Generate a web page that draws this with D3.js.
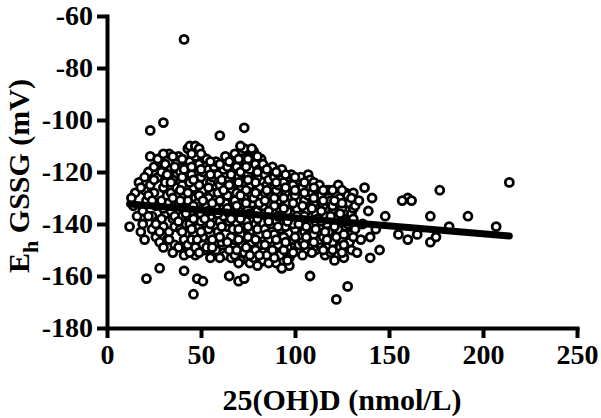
<!DOCTYPE html>
<html>
<head>
<meta charset="utf-8">
<script src="https://cdn.jsdelivr.net/npm/d3@7"></script>
<style>
  body { margin: 0; background: #fff; }
  svg text { font-family: "Liberation Serif", "Times New Roman", serif; font-weight: bold; }
</style>
</head>
<body>
<div id="chart"></div>
<script>
// scatter of Eh GSSG against serum 25(OH)D with a linear fit

const xTicks = [0, 50, 100, 150, 200, 250];
const yTicks = [-180, -160, -140, -120, -100, -80, -60];

// [25(OH)D, Eh GSSG]
const cloudPoints = [
  [12,-141],[14,-133],[15,-128],[16,-137],[17,-124],[13,-130],
  [18,-143],[19,-135],[20,-127],[21,-131],[19,-140],[22,-120],[21,-124],[20,-146],
  [23,-114],[24,-142],[25,-118],[25,-128],[26,-133],[24,-137],[27,-122],[26,-145],[23,-125],[27,-139],
  [28,-116],[29,-120],[30,-126],[29,-131],[31,-136],[30,-141],[32,-146],[28,-147],[31,-124],[32,-129],[29,-138],[31,-117],
  [33,-113],[34,-119],[35,-123],[34,-128],[36,-133],[35,-138],[33,-143],[36,-148],[37,-116],[37,-126],[34,-135],[36,-141],[35,-130],[33,-121],
  [38,-114],[39,-120],[40,-125],[41,-129],[38,-133],[40,-137],[39,-142],[41,-146],[42,-151],[38,-149],[42,-118],[40,-122],[41,-134],[39,-127],[42,-140],
  [43,-111],[44,-116],[45,-121],[46,-126],[43,-131],[45,-135],[44,-140],[46,-144],[43,-148],[47,-152],[47,-114],[46,-118],[44,-124],[47,-130],[45,-146],[46,-138],
  [48,-112],[49,-117],[50,-122],[51,-127],[48,-132],[50,-136],[49,-141],[51,-145],[52,-150],[48,-146],[52,-115],[51,-120],[49,-125],[52,-134],[50,-139],[51,-148],
  [53,-115],[54,-119],[55,-124],[56,-128],[53,-133],[55,-137],[54,-142],[56,-146],[57,-151],[53,-149],[57,-118],[56,-122],[54,-130],[57,-135],[55,-140],
  [58,-116],[59,-121],[60,-125],[61,-130],[58,-134],[60,-139],[59,-143],[61,-147],[62,-151],[58,-150],[62,-119],[61,-123],[59,-128],[62,-137],[60,-145],
  [63,-114],[64,-118],[65,-123],[66,-127],[63,-132],[65,-136],[64,-141],[66,-145],[67,-149],[63,-152],[67,-116],[66,-121],[64,-129],[67,-134],[65,-139],[66,-153],
  [68,-113],[69,-118],[70,-122],[71,-126],[68,-131],[70,-135],[69,-140],[71,-144],[72,-148],[68,-152],[72,-112],[71,-120],[69,-128],[72,-137],[70,-146],[71,-154],[72,-124],
  [73,-111],[74,-116],[75,-121],[76,-125],[73,-130],[75,-134],[74,-139],[76,-143],[77,-147],[73,-151],[77,-113],[76,-119],[74,-127],[77,-132],[75,-141],[76,-155],[74,-149],
  [78,-112],[79,-117],[80,-122],[81,-126],[78,-130],[80,-135],[79,-140],[81,-144],[82,-148],[78,-153],[82,-115],[81,-119],[79,-124],[82,-133],[80,-142],[81,-155],[79,-150],
  [83,-117],[84,-121],[85,-125],[86,-129],[83,-133],[85,-137],[84,-142],[86,-146],[87,-150],[83,-154],[87,-119],[86,-123],[84,-128],[87,-140],[85,-152],
  [88,-118],[89,-122],[90,-127],[91,-131],[88,-135],[90,-139],[89,-144],[91,-148],[92,-152],[88,-150],[92,-120],[91,-125],[89,-133],[92,-142],[90,-155],
  [93,-119],[94,-124],[95,-128],[96,-132],[93,-137],[95,-141],[94,-145],[96,-149],[97,-153],[93,-157],[97,-122],[96,-135],[94,-150],[97,-156],
  [98,-121],[99,-125],[100,-129],[101,-134],[98,-138],[100,-142],[99,-146],[101,-150],[102,-123],[101,-127],[99,-140],[102,-148],
  [103,-122],[104,-126],[105,-131],[106,-135],[103,-139],[105,-143],[104,-147],[106,-150],[107,-121],[107,-129],[105,-137],
  [108,-123],[109,-128],[110,-132],[111,-136],[108,-140],[110,-144],[109,-148],[111,-150],[112,-126],[112,-138],[110,-124],
  [113,-125],[114,-129],[115,-133],[116,-137],[113,-141],[115,-145],[114,-149],[116,-152],[117,-127],[117,-140],
  [118,-127],[119,-131],[120,-135],[121,-139],[118,-143],[120,-147],[119,-151],[121,-154],[122,-129],[122,-137],
  [123,-125],[124,-130],[125,-134],[126,-138],[123,-142],[125,-146],[124,-149],[126,-153],[127,-128],[127,-141],
  [128,-129],[129,-132],[130,-136],[131,-134],[128,-140],[130,-144],[129,-147],[131,-128],
  [44,-110],[47,-110],[49,-111],[71,-110],[77,-111]
];

// second pass over the dense part, between the first set
const densePoints = [
  [20,-122],[22,-137],[22,-129],[18,-126],
  [25,-123],[26,-140],[24,-131],[27,-115],
  [30,-113],[30,-134],[32,-121],[28,-143],[30,-149],
  [35,-114],[36,-118],[34,-124],[36,-137],[33,-146],[35,-151],
  [40,-115],[41,-119],[39,-131],[42,-136],[40,-143],[41,-152],[38,-139],
  [45,-113],[45,-118],[46,-123],[43,-128],[46,-133],[45,-142],[44,-151],[47,-149],
  [50,-113],[50,-119],[49,-129],[51,-131],[50,-143],[49,-151],[52,-138],
  [55,-116],[55,-121],[54,-126],[56,-132],[54,-135],[56,-149],[55,-153],
  [60,-117],[60,-131],[59,-136],[61,-141],[60,-153],[62,-127],
  [65,-116],[65,-125],[64,-134],[66,-138],[64,-147],[65,-150],[67,-142],
  [70,-115],[70,-124],[69,-133],[71,-138],[70,-142],[69,-150],[70,-155],[71,-129],
  [75,-115],[75,-123],[74,-132],[76,-136],[75,-145],[76,-152],[74,-118],
  [80,-114],[80,-120],[79,-128],[81,-132],[80,-138],[79,-146],[81,-152],[80,-156],
  [85,-119],[85,-127],[84,-131],[86,-135],[85,-144],[84,-148],[86,-155],[86,-139],
  [90,-120],[90,-124],[89,-130],[91,-137],[90,-146],[89,-153],[91,-141],
  [95,-121],[95,-126],[94,-134],[96,-139],[95,-147],[96,-154],[94,-130],
  [100,-122],[100,-127],[99,-132],[101,-137],[100,-145],[99,-151],[102,-140],
  [105,-124],[105,-128],[104,-133],[106,-141],[105,-148],[104,-152],[106,-145],
  [110,-126],[110,-130],[109,-134],[111,-139],[110,-147],[109,-151],[111,-142],
  [115,-127],[115,-131],[114,-135],[116,-143],[115,-150],[117,-146],[114,-139],
  [120,-127],[120,-133],[119,-137],[121,-141],[120,-150],[122,-145],[121,-131],
  [125,-127],[125,-132],[124,-136],[126,-144],[125,-151],[127,-139],[126,-148],
  [130,-130],[131,-138],[132,-142],[131,-145],[130,-150],[132,-133]
];

// thinner edge of the cloud and the long right tail
const sparsePoints = [
  [133,-151],[137,-126],[140,-153],[140,-145],[145,-150],[148,-137],[136,-140],
  [139,-135],[143,-142],[134,-131],[141,-130],[135,-146],
  [155,-144],[160,-146],[165,-144],[160,-130],[157,-131],[162,-131],[177,-127],[172,-137],
  [192,-137],[182,-141],[207,-141],[172,-147],[175,-145],[214,-124]
];

const outlierPoints = [
  [41,-69],[23,-104],[30,-101],[60,-106],[73,-103],
  [21,-161],[28,-157],[41,-158],[48,-161],[51,-162],[46,-167],[65,-160],[70,-162],
  [73,-161],[93,-157],[108,-160],[122,-169],[128,-164]
];

// ends of the regression line
const fitLine = [[12,-132.3],[214,-144.6]];

const width = 601, height = 418;
const margin = { top: 16, right: 24, bottom: 90, left: 107 };

const svg = d3.select('#chart')
  .append('svg')
  .attr('width', width)
  .attr('height', height);

const x = d3.scaleLinear()
  .domain([0, 250])
  .range([margin.left, width - margin.right]);

const y = d3.scaleLinear()
  .domain([-180, -60])
  .range([height - margin.bottom, margin.top]);

// points
const allPoints = cloudPoints.concat(densePoints, sparsePoints, outlierPoints);
svg.append('g')
  .selectAll('circle')
  .data(allPoints)
  .enter()
  .append('circle')
  .attr('cx', d => x(d[0]))
  .attr('cy', d => y(d[1]))
  .attr('r', 4)
  .attr('fill', '#fff')
  .attr('stroke', '#000')
  .attr('stroke-width', 2.8);

// fit line
svg.append('path')
  .datum(fitLine)
  .attr('d', d3.line().x(d => x(d[0])).y(d => y(d[1])))
  .attr('stroke', '#000')
  .attr('stroke-width', 7)
  .attr('stroke-linecap', 'round')
  .attr('fill', 'none');

// axes
const xAxis = svg.append('g')
  .attr('transform', `translate(0,${y(-180)})`)
  .call(d3.axisBottom(x).tickValues(xTicks).tickSize(10).tickSizeOuter(0).tickPadding(6)
    .tickFormat(d => String(d)));

const yAxis = svg.append('g')
  .attr('transform', `translate(${x(0)},0)`)
  .call(d3.axisLeft(y).tickValues(yTicks).tickSize(10).tickSizeOuter(0).tickPadding(4)
    .tickFormat(d => String(d)));

[xAxis, yAxis].forEach(g => {
  g.select('.domain').attr('stroke-width', 4).attr('stroke-linecap', 'square');
  g.selectAll('.tick line').attr('stroke-width', 4);
  g.selectAll('.tick text')
    .attr('fill', '#000')
    .style('font-size', '28px');
});

// axis titles
svg.append('text')
  .attr('x', x(125))
  .attr('y', 410)
  .attr('text-anchor', 'middle')
  .style('font-size', '30px')
  .text('25(OH)D (nmol/L)');

const yTitle = svg.append('text')
  .attr('transform', `translate(29,176) rotate(-90)`)
  .attr('text-anchor', 'middle')
  .style('font-size', '30px');
yTitle.append('tspan').text('E');
yTitle.append('tspan').attr('dy', 9).style('font-size', '22px').text('h');
yTitle.append('tspan').attr('dy', -9).text(' GSSG (mV)');
</script>
</body>
</html>
